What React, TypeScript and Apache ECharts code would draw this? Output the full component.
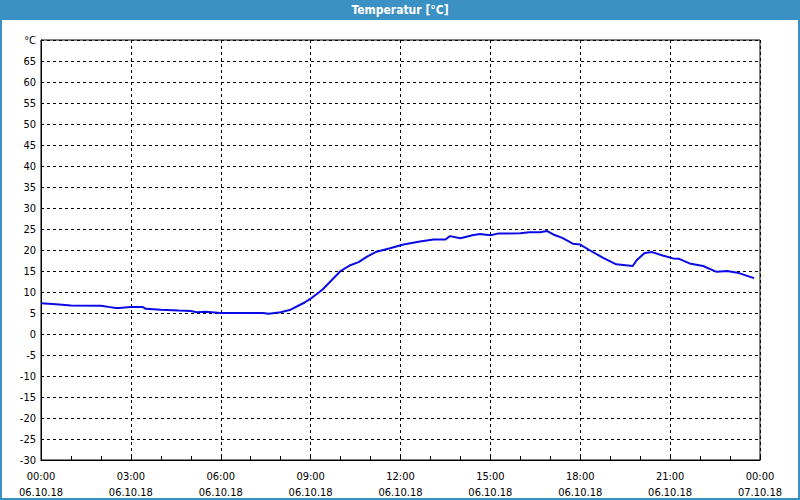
import React, { useEffect, useRef } from "react";
import * as echarts from "echarts";

const hours = [0, 0.5, 1.0, 2.0, 2.3, 2.5, 2.6, 3.0, 3.4, 3.5, 4.0, 4.6, 5.0, 5.2, 5.5, 6.0, 6.2, 7.0, 7.4, 7.6, 8.0, 8.3, 8.8, 9.0, 9.4, 10.0, 10.3, 10.6, 10.9, 11.2, 11.65, 12.1, 12.65, 13.1, 13.5, 13.65, 14.0, 14.4, 14.65, 15.0, 15.25, 16.0, 16.3, 16.65, 16.9, 17.1, 17.4, 17.75, 18.0, 18.3, 18.75, 19.2, 19.75, 19.9, 20.15, 20.4, 20.75, 21.1, 21.3, 21.65, 22.1, 22.55, 22.9, 23.3, 23.8];
const temps = [7.3, 7.1, 6.8, 6.7, 6.4, 6.2, 6.2, 6.4, 6.4, 6.0, 5.8, 5.6, 5.5, 5.2, 5.3, 5.0, 5.0, 5.0, 5.0, 4.8, 5.2, 5.7, 7.5, 8.4, 10.6, 15.0, 16.3, 17.1, 18.5, 19.6, 20.4, 21.3, 22.0, 22.5, 22.5, 23.3, 22.8, 23.5, 23.8, 23.5, 23.9, 24.0, 24.2, 24.2, 24.5, 23.7, 22.9, 21.5, 21.3, 20.0, 18.2, 16.6, 16.2, 17.7, 19.3, 19.5, 18.7, 18.0, 17.9, 16.8, 16.2, 14.8, 15.0, 14.5, 13.3];
const xTickLabels = ["00:00\n06.10.18", "03:00\n06.10.18", "06:00\n06.10.18", "09:00\n06.10.18", "12:00\n06.10.18", "15:00\n06.10.18", "18:00\n06.10.18", "21:00\n06.10.18", "00:00\n07.10.18"];
const titleText = "Temperatur [°C]";
const unitLabel = "°C";

export default function App() {
  const ref = useRef<HTMLDivElement>(null);
  useEffect(() => {
    document.body.style.margin = "0";
    const chart = echarts.init(ref.current!, undefined, { renderer: "svg" });
    const font = "'DejaVu Sans Condensed', 'DejaVu Sans'";
    chart.setOption({
      animation: false,
      backgroundColor: "#ffffff",
      grid: {
        left: 41, right: 40, top: 40, bottom: 39,
        show: true, borderColor: "#000", borderWidth: 1, backgroundColor: "#ffffff",
      },
      graphic: [
        { type: "rect", shape: { x: 0, y: 0, width: 800, height: 20 }, style: { fill: "#3b91c4" }, z: 10 },
        { type: "rect", shape: { x: 1, y: 1, width: 798, height: 498 }, style: { fill: "none", stroke: "#3b91c4", lineWidth: 2 }, z: 10 },
        { type: "text", x: 400, y: 10, style: { text: titleText, fill: "#ffffff", font: "bold 12px 'DejaVu Sans Condensed', 'DejaVu Sans'", align: "center", verticalAlign: "middle" }, z: 11 },
      ],
      xAxis: {
        type: "value", min: 0, max: 24, interval: 3,
        axisLine: { show: true, onZero: false, lineStyle: { color: "#000", width: 1 } },
        axisTick: { show: true, inside: true, length: 4, lineStyle: { color: "#000" } },
        minorTick: { show: true, splitNumber: 3, length: 4, lineStyle: { color: "#000" } },
        splitLine: { show: true, lineStyle: { color: "#000", type: [3, 3], width: 1 } },
        axisLabel: {
          color: "#000", fontFamily: font, fontSize: 11, lineHeight: 16, margin: 8,
          formatter: (v: number) => xTickLabels[Math.round(v / 3)] ?? "",
        },
      },
      yAxis: {
        type: "value", min: -30, max: 70, interval: 5,
        axisLine: { show: true, onZero: false, lineStyle: { color: "#000", width: 1 } },
        axisTick: { show: false },
        splitLine: { show: true, lineStyle: { color: "#000", type: [3, 3], width: 1 } },
        axisLabel: {
          color: "#000", fontFamily: font, fontSize: 11, margin: 5,
          formatter: (v: number) => (v === 70 ? unitLabel : String(v)),
        },
      },
      series: [
        {
          type: "line",
          data: hours.map((h, i) => [h, temps[i]]),
          showSymbol: false,
          lineStyle: { color: "#0a0ae6", width: 2 },
          itemStyle: { color: "#0a0ae6" },
        },
      ],
    });
    return () => chart.dispose();
  }, []);
  return <div ref={ref} style={{ width: 800, height: 500 }} />;
}
